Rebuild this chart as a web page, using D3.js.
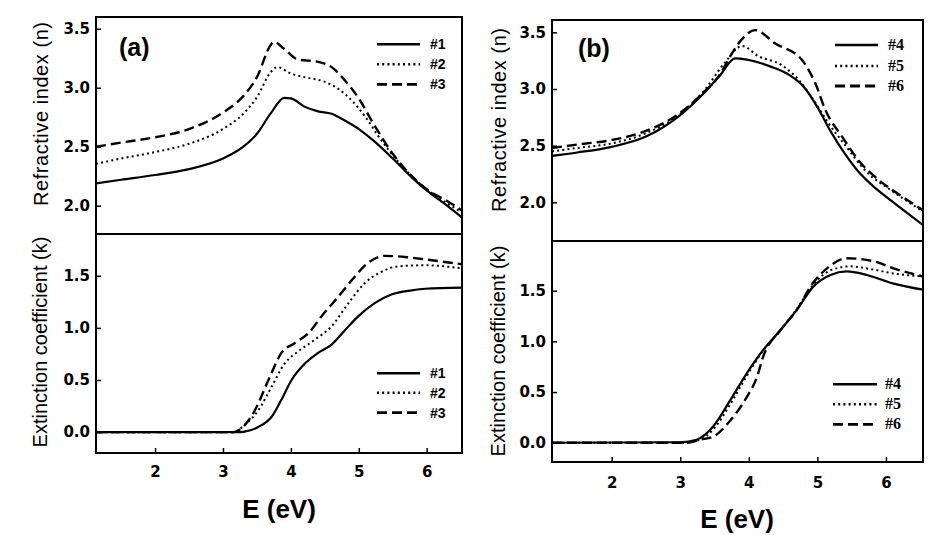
<!DOCTYPE html>
<html>
<head>
<meta charset="utf-8">
<script src="https://cdn.jsdelivr.net/npm/d3@7"></script>
<style>
  html, body { margin: 0; padding: 0; background: #fff; }
  svg { display: block; }
  .serifleg { font-family: "Liberation Serif", "DejaVu Serif", "Times New Roman", serif; }
</style>
</head>
<body>
<svg id="chart" width="947" height="535"></svg>
<script>
// ---------------- DATA ----------------
const ticksE = [2, 3, 4, 5, 6];
const ticksN = [2.0, 2.5, 3.0, 3.5];
const ticksK = [0.0, 0.5, 1.0, 1.5];
const labelsA = ["#1", "#2", "#3"];
const labelsB = ["#4", "#5", "#6"];

// Panel (a), refractive index n
const eA_n1 = [1.13, 1.5, 2.0, 2.5, 3.0, 3.3, 3.5, 3.7, 3.9, 4.0, 4.2, 4.4, 4.6, 4.8, 5.0, 5.2, 5.5, 5.8, 6.0, 6.3, 6.52];
const nA_1  = [2.19, 2.22, 2.26, 2.31, 2.40, 2.50, 2.61, 2.78, 2.915, 2.91, 2.84, 2.80, 2.78, 2.72, 2.65, 2.56, 2.40, 2.23, 2.13, 2.00, 1.90];
const eA_n2 = [1.13, 1.5, 2.0, 2.5, 3.0, 3.3, 3.5, 3.7, 3.8, 4.0, 4.2, 4.5, 4.7, 4.9, 5.1, 5.3, 5.6, 6.0, 6.3, 6.52];
const nA_2  = [2.355, 2.40, 2.455, 2.525, 2.65, 2.78, 2.92, 3.13, 3.175, 3.12, 3.09, 3.05, 2.99, 2.89, 2.75, 2.58, 2.36, 2.14, 2.02, 1.945];
const eA_n3 = [1.13, 1.5, 2.0, 2.5, 3.0, 3.3, 3.5, 3.7, 3.75, 3.9, 4.1, 4.4, 4.6, 4.8, 5.0, 5.2, 5.5, 5.8, 6.0, 6.3, 6.52];
const nA_3  = [2.50, 2.535, 2.58, 2.65, 2.79, 2.93, 3.09, 3.36, 3.39, 3.33, 3.24, 3.22, 3.175, 3.06, 2.91, 2.71, 2.44, 2.24, 2.14, 2.04, 1.96];

// Panel (a), extinction coefficient k
const eA_k1 = [1.13, 3.2, 3.32, 3.52, 3.72, 3.86, 4.01, 4.21, 4.40, 4.60, 4.80, 4.99, 5.24, 5.48, 5.78, 5.98, 6.52];
const kA_1  = [0, 0, 0.005, 0.05, 0.15, 0.31, 0.50, 0.66, 0.76, 0.84, 0.98, 1.11, 1.24, 1.32, 1.36, 1.375, 1.385];
const eA_k2 = [1.13, 3.15, 3.32, 3.52, 3.72, 3.91, 4.11, 4.36, 4.60, 4.85, 5.09, 5.34, 5.58, 5.98, 6.52];
const kA_2  = [0, 0, 0.07, 0.21, 0.44, 0.66, 0.775, 0.89, 1.015, 1.24, 1.43, 1.54, 1.59, 1.60, 1.57];
const eA_k3 = [1.13, 3.15, 3.28, 3.47, 3.67, 3.86, 4.06, 4.26, 4.45, 4.70, 4.90, 5.14, 5.39, 5.68, 5.93, 6.52];
const kA_3  = [0, 0, 0.04, 0.21, 0.50, 0.76, 0.855, 0.95, 1.11, 1.30, 1.46, 1.625, 1.69, 1.68, 1.66, 1.61];

// Panel (b), refractive index n
const eB_n4 = [1.13, 1.5, 2.0, 2.5, 3.0, 3.34, 3.58, 3.8, 3.97, 4.31, 4.6, 4.8, 5.0, 5.2, 5.4, 5.6, 5.8, 6.0, 6.26, 6.54];
const nB_4  = [2.41, 2.44, 2.49, 2.58, 2.77, 2.96, 3.12, 3.27, 3.26, 3.20, 3.12, 3.02, 2.84, 2.62, 2.43, 2.27, 2.15, 2.05, 1.93, 1.80];
const eB_n5 = [1.13, 1.5, 2.0, 2.5, 3.0, 3.34, 3.66, 3.9, 4.14, 4.48, 4.73, 4.97, 5.16, 5.41, 5.70, 6.09, 6.54];
const nB_5  = [2.45, 2.48, 2.52, 2.61, 2.78, 2.98, 3.24, 3.38, 3.29, 3.21, 3.08, 2.88, 2.70, 2.50, 2.28, 2.10, 1.92];
const eB_n6 = [1.13, 1.5, 2.0, 2.5, 3.0, 3.34, 3.58, 3.73, 3.9, 4.09, 4.39, 4.77, 4.97, 5.12, 5.36, 5.60, 5.89, 6.24, 6.54];
const nB_6  = [2.48, 2.51, 2.55, 2.63, 2.79, 2.97, 3.13, 3.29, 3.44, 3.52, 3.40, 3.26, 3.05, 2.81, 2.58, 2.37, 2.20, 2.05, 1.93];

// Panel (b), extinction coefficient k
const eB_k4 = [1.13, 3.0, 3.24, 3.48, 3.73, 3.97, 4.21, 4.46, 4.70, 4.94, 5.19, 5.43, 5.72, 6.11, 6.54];
const kB_4  = [0, 0.005, 0.03, 0.16, 0.42, 0.685, 0.915, 1.11, 1.31, 1.54, 1.655, 1.69, 1.655, 1.57, 1.51];
const eB_k5 = [1.13, 3.05, 3.29, 3.48, 3.73, 3.97, 4.21, 4.46, 4.70, 4.94, 5.19, 5.48, 5.80, 6.11, 6.54];
const kB_5  = [0, 0, 0.03, 0.13, 0.38, 0.66, 0.91, 1.11, 1.32, 1.56, 1.70, 1.74, 1.71, 1.67, 1.64];
const eB_k6 = [1.13, 3.1, 3.29, 3.48, 3.73, 3.97, 4.12, 4.21, 4.46, 4.70, 4.94, 5.14, 5.43, 5.82, 6.11, 6.54];
const kB_6  = [0, 0, 0.03, 0.06, 0.22, 0.45, 0.65, 0.85, 1.11, 1.31, 1.58, 1.72, 1.82, 1.79, 1.72, 1.64];

// ---------------- DRAWING ----------------
const svg = d3.select("#chart");
const STYLES = [
  { width: 2.2, dash: null },
  { width: 2.0, dash: "2,3.2" },
  { width: 2.4, dash: "10,5" }
];

function pack(xs, ys) { return xs.map((x, i) => ({ x: x, y: ys[i] })); }

const panels = [
  {
    id: "a", left: 96, right: 462, top: 17, mid: 234, bottom: 453,
    xDom: [1.13, 6.52], nDom: [1.76, 3.6], kDom: [-0.2, 1.9],
    tag: "(a)", tagX: 119, tagY: 56,
    nSeries: [pack(eA_n1, nA_1), pack(eA_n2, nA_2), pack(eA_n3, nA_3)],
    kSeries: [pack(eA_k1, kA_1), pack(eA_k2, kA_2), pack(eA_k3, kA_3)],
    labels: labelsA, legClass: "sansleg", legSize: 14,
    legTop: { x1: 377, x2: 420, ys: [44.3, 64.3, 84.3], tx: 430 },
    legBot: { x1: 377, x2: 420, ys: [373.3, 392.7, 412.7], tx: 430 },
    yTitleX: 48, nTitleY: 114, kTitleY: 342, xPad: 13,
    xTitleX: 279, xTitleY: 518
  },
  {
    id: "b", left: 552, right: 923, top: 20, mid: 241, bottom: 462,
    xDom: [1.13, 6.54], nDom: [1.659, 3.609], kDom: [-0.19, 1.99],
    tag: "(b)", tagX: 578, tagY: 57,
    nSeries: [pack(eB_n4, nB_4), pack(eB_n5, nB_5), pack(eB_n6, nB_6)],
    kSeries: [pack(eB_k4, kB_4), pack(eB_k5, kB_5), pack(eB_k6, kB_6)],
    labels: labelsB, legClass: "serifleg", legSize: 16,
    legTop: { x1: 835, x2: 878, ys: [45, 66, 86], tx: 888 },
    legBot: { x1: 833, x2: 877, ys: [384.3, 404.3, 424.3], tx: 885 },
    yTitleX: 506, nTitleY: 120, kTitleY: 351, xPad: 15,
    xTitleX: 737, xTitleY: 528
  }
];

const tickFont = "DejaVu Sans, Verdana, sans-serif";
const mainFont = "Liberation Sans, Arial, Helvetica, sans-serif";
const defs = svg.append("defs");

panels.forEach(p => {
  const g = svg.append("g");
  const x = d3.scaleLinear().domain(p.xDom).range([p.left, p.right]);
  const yN = d3.scaleLinear().domain(p.nDom).range([p.mid, p.top]);
  const yK = d3.scaleLinear().domain(p.kDom).range([p.bottom, p.mid]);

  defs.append("clipPath").attr("id", "clipN" + p.id)
    .append("rect").attr("x", p.left).attr("y", p.top)
    .attr("width", p.right - p.left).attr("height", p.mid - p.top);
  defs.append("clipPath").attr("id", "clipK" + p.id)
    .append("rect").attr("x", p.left).attr("y", p.mid)
    .attr("width", p.right - p.left).attr("height", p.bottom - p.mid);

  const lineN = d3.line().x(d => x(d.x)).y(d => yN(d.y)).curve(d3.curveMonotoneX);
  const lineK = d3.line().x(d => x(d.x)).y(d => yK(d.y)).curve(d3.curveMonotoneX);

  [2, 1, 0].forEach(i => {
    g.append("path").datum(p.nSeries[i])
      .attr("clip-path", "url(#clipN" + p.id + ")")
      .attr("d", lineN).attr("fill", "none").attr("stroke", "#000")
      .attr("stroke-width", STYLES[i].width)
      .attr("stroke-dasharray", STYLES[i].dash);
    g.append("path").datum(p.kSeries[i])
      .attr("clip-path", "url(#clipK" + p.id + ")")
      .attr("d", lineK).attr("fill", "none").attr("stroke", "#000")
      .attr("stroke-width", STYLES[i].width)
      .attr("stroke-dasharray", STYLES[i].dash);
  });

  const axN = g.append("g").attr("transform", `translate(${p.left},0)`)
    .call(d3.axisLeft(yN).tickValues(ticksN).tickFormat(d3.format(".1f")).tickSize(-5).tickPadding(6));
  const axK = g.append("g").attr("transform", `translate(${p.left},0)`)
    .call(d3.axisLeft(yK).tickValues(ticksK).tickFormat(d3.format(".1f")).tickSize(-5).tickPadding(6));
  const axX = g.append("g").attr("transform", `translate(0,${p.bottom})`)
    .call(d3.axisBottom(x).tickValues(ticksE).tickFormat(d3.format("d")).tickSize(-5).tickPadding(p.xPad));
  [axN, axK, axX].forEach(a => {
    a.attr("font-family", tickFont).attr("font-size", 15).attr("font-weight", "bold");
    a.select(".domain").remove();
    a.selectAll(".tick line").attr("stroke", "#000").attr("stroke-width", 1.5);
    a.selectAll(".tick text").attr("fill", "#000");
  });

  g.append("rect").attr("x", p.left).attr("y", p.top)
    .attr("width", p.right - p.left).attr("height", p.bottom - p.top)
    .attr("fill", "none").attr("stroke", "#000").attr("stroke-width", 2);
  g.append("line").attr("x1", p.left).attr("x2", p.right)
    .attr("y1", p.mid).attr("y2", p.mid)
    .attr("stroke", "#000").attr("stroke-width", 2);

  g.append("text").attr("x", p.tagX).attr("y", p.tagY).text(p.tag)
    .attr("font-family", mainFont).attr("font-size", 25).attr("font-weight", "bold");

  g.append("text")
    .attr("transform", `translate(${p.yTitleX},${p.nTitleY}) rotate(-90)`)
    .attr("text-anchor", "middle").attr("textLength", 184).attr("lengthAdjust", "spacing")
    .attr("font-family", mainFont).attr("font-size", 20)
    .text("Refractive index (n)");
  g.append("text")
    .attr("transform", `translate(${p.yTitleX - 1},${p.kTitleY}) rotate(-90)`)
    .attr("text-anchor", "middle")
    .attr("font-family", mainFont).attr("font-size", 20)
    .text("Extinction coefficient (k)");
  g.append("text").attr("x", p.xTitleX).attr("y", p.xTitleY)
    .attr("text-anchor", "middle")
    .attr("font-family", mainFont).attr("font-size", 26).attr("font-weight", "bold")
    .text("E (eV)");

  [p.legTop, p.legBot].forEach(L => {
    L.ys.forEach((yy, i) => {
      g.append("line").attr("x1", L.x1).attr("x2", L.x2).attr("y1", yy).attr("y2", yy)
        .attr("stroke", "#000").attr("stroke-width", STYLES[i].width + 0.4)
        .attr("stroke-dasharray", STYLES[i].dash);
      const t = g.append("text").attr("x", L.tx).attr("y", yy + 5).text(p.labels[i])
        .attr("class", p.legClass)
        .attr("font-size", p.legSize).attr("font-weight", "bold");
      if (p.legClass === "sansleg") t.attr("font-family", mainFont);
    });
  });
});
</script>
</body>
</html>
